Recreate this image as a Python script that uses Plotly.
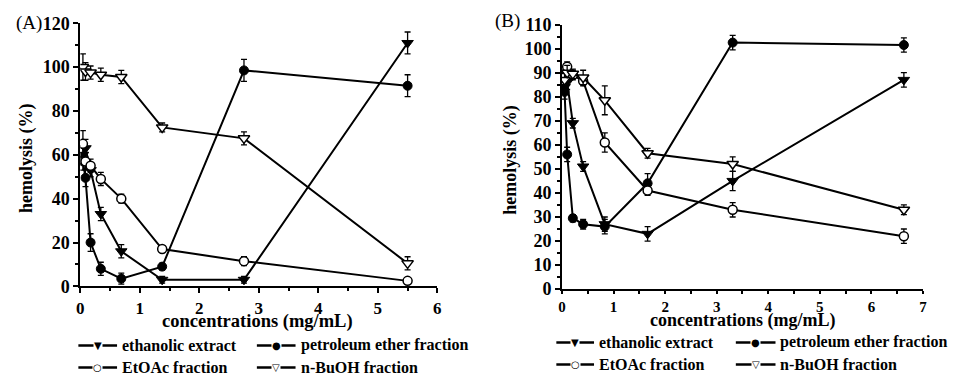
import plotly.graph_objects as go

W, H = 957, 383

# ---------------- data ----------------
conc_a = [0.043, 0.086, 0.172, 0.344, 0.688, 1.375, 2.75, 5.5]
eth_a = [60, 63, 53, 33, 16, 3, 3, 111]
eth_a_err = [4, 4, 3, 3, 3, 1.5, 1.5, 5]
pet_a = [57, 49.5, 20, 8, 3.5, 9, 98.5, 91.5]
pet_a_err = [4, 4, 4, 3, 2.5, 1.5, 5, 5]
eto_a = [65, 57, 55, 49, 40, 17, 11.5, 2.5]
eto_a_err = [6, 4, 3, 3, 2, 1, 2, 1.5]
bu_a = [100, 98, 97.5, 96.5, 95.5, 72.5, 67.5, 10.5]
bu_a_err = [6, 4, 3, 3, 3, 2, 3, 3]

conc_b = [0.05, 0.10, 0.21, 0.41, 0.83, 1.66, 3.31, 6.63]
eth_b = [84, 86, 69, 51, 27, 23, 45, 87]
eth_b_err = [3, 3, 2, 2, 3, 3, 4, 3]
pet_b = [82, 56, 29.5, 27, 26, 44, 102.5, 101.5]
pet_b_err = [3, 3, 1.5, 2, 3, 4, 3, 3]
eto_b = [88, 92.5, 89, 86.5, 61, 41, 33, 22]
eto_b_err = [3, 2, 2, 2, 4, 2, 3, 3]
bu_b = [87, 90, 89.5, 88, 78.5, 56.5, 52, 33]
bu_b_err = [3, 3, 2, 3, 6, 2, 3, 2]

names = ["ethanolic extract", "petroleum ether fraction", "EtOAc fraction", "n-BuOH fraction"]
legend_glyphs = ["▼", "●", "○", "▽"]
xticks_a = [0, 1, 2, 3, 4, 5, 6]
yticks_a = [0, 20, 40, 60, 80, 100, 120]
xticks_b = [0, 1, 2, 3, 4, 5, 6, 7]
yticks_b = [0, 10, 20, 30, 40, 50, 60, 70, 80, 90, 100, 110]
x_title = "concentrations (mg/mL)"
y_title = "hemolysis (%)"

FONT = "Liberation Serif, Times New Roman, serif"
styles = [
    dict(symbol="triangle-down", color="black", line=dict(color="black", width=1)),
    dict(symbol="circle", color="black", line=dict(color="black", width=1)),
    dict(symbol="circle", color="white", line=dict(color="black", width=1.5)),
    dict(symbol="triangle-down", color="white", line=dict(color="black", width=1.5)),
]

fig = go.Figure()

def px_x(p):
    return p / W

def px_y(p):
    # target screen pixel -> paper fraction (compensates observed vertical mapping)
    yl = (p - 9.4) / 0.951
    return 1 - yl / H

panels = [
    (conc_a, [eth_a, pet_a, eto_a, bu_a], [eth_a_err, pet_a_err, eto_a_err, bu_a_err], "x", "y"),
    (conc_b, [eth_b, pet_b, eto_b, bu_b], [eth_b_err, pet_b_err, eto_b_err, bu_b_err], "x2", "y2"),
]

for conc, ys, errs, xa, ya in panels:
    for i in range(4):
        fig.add_trace(go.Scatter(
            x=conc, y=ys[i], mode="lines+markers", name=names[i],
            xaxis=xa, yaxis=ya, showlegend=False,
            line=dict(color="black", width=2),
            marker=dict(size=10 if "triangle" in styles[i]["symbol"] else 9, **styles[i]),
            error_y=dict(type="data", array=errs[i], color="black", thickness=1.3, width=3),
        ))

axis_common = dict(
    showgrid=False, zeroline=False, showline=True, linecolor="black", linewidth=2,
    ticks="outside", tickwidth=2, tickcolor="black",
)

def ann(text, x, y, rot=0, size=17, xanchor="center", bold=True):
    return dict(text=f"<b>{text}</b>" if bold else text, x=px_x(x), y=px_y(y), xref="paper", yref="paper",
                xanchor=xanchor, yanchor="middle", showarrow=False, textangle=rot,
                font=dict(family=FONT, size=size, color="black"))

annotations = [
    ann("(A)", 10, 22, size=19, xanchor="left", bold=False),
    ann("(B)", 493, 20, size=19, xanchor="left", bold=False),
    ann(x_title, 256, 322, size=18.5),
    ann(x_title, 745, 321, size=18),
    ann(y_title, 22, 158, rot=-90, size=18),
    ann(y_title, 510, 160, rot=-90, size=18),
]

# legend entries: (line start x, text start x, row y) per panel
leg_a = [(75, 117, 346), (255, 297, 346), (75, 117, 368), (255, 297, 368)]
leg_b = [(557, 598, 343), (738, 781, 343), (557, 598, 365), (738, 781, 365)]
shapes = []
for legpos in (leg_a, leg_b):
    for i, (lx, tx, ty) in enumerate(legpos):
        shapes.append(dict(type="line", xref="paper", yref="paper",
                           x0=px_x(lx), x1=px_x(tx - 3), y0=px_y(ty), y1=px_y(ty),
                           line=dict(color="black", width=2.5)))
        annotations.append(dict(text=legend_glyphs[i], x=px_x((lx + tx - 3) / 2), y=px_y(ty),
                                xref="paper", yref="paper", xanchor="center", yanchor="middle",
                                showarrow=False, bgcolor="white", borderpad=0,
                                font=dict(family="DejaVu Sans", size=10, color="black")))
        annotations.append(ann(names[i], tx, ty, size=16, xanchor="left"))

fig.update_layout(
    width=W, height=H, margin=dict(l=0, r=0, t=0, b=0),
    paper_bgcolor="white", plot_bgcolor="white", showlegend=False,
    font=dict(family=FONT, color="black"),
    xaxis=dict(domain=[77 / W, 437 / W], range=[0, 6], anchor="y",
               tickvals=xticks_a, ticktext=[f"<b>{v}</b>" for v in xticks_a], ticklen=5,
               tickfont=dict(family=FONT, size=17, color="black"),
               minor=dict(dtick=0.5, ticks="outside", ticklen=3, tickwidth=2, tickcolor="black"),
               **axis_common),
    yaxis=dict(domain=[px_y(286.7), px_y(22.7)], range=[0, 120], anchor="x",
               tickvals=yticks_a, ticktext=[f"<b>{v}</b>" for v in yticks_a], ticklen=5,
               tickfont=dict(family=FONT, size=18, color="black"),
               minor=dict(dtick=10, ticks="outside", ticklen=3, tickwidth=2, tickcolor="black"),
               **axis_common),
    xaxis2=dict(domain=[562.7 / W, 926.7 / W], range=[0, 7], anchor="y2",
                tickvals=xticks_b, ticktext=[f"<b>{v}</b>" for v in xticks_b], ticklen=3,
                tickfont=dict(family=FONT, size=15, color="black"),
                minor=dict(dtick=0.5, ticks="outside", ticklen=3, tickwidth=2, tickcolor="black"),
                **axis_common),
    yaxis2=dict(domain=[px_y(289.5), px_y(24)], range=[0, 110], anchor="x2",
                tickvals=yticks_b, ticktext=[f"<b>{v}</b>" for v in yticks_b], ticklen=5,
                tickfont=dict(family=FONT, size=18, color="black"),
                minor=dict(dtick=5, ticks="outside", ticklen=3, tickwidth=2, tickcolor="black"),
                **axis_common),
    annotations=annotations,
    shapes=shapes,
)

fig.write_html("out.html")
